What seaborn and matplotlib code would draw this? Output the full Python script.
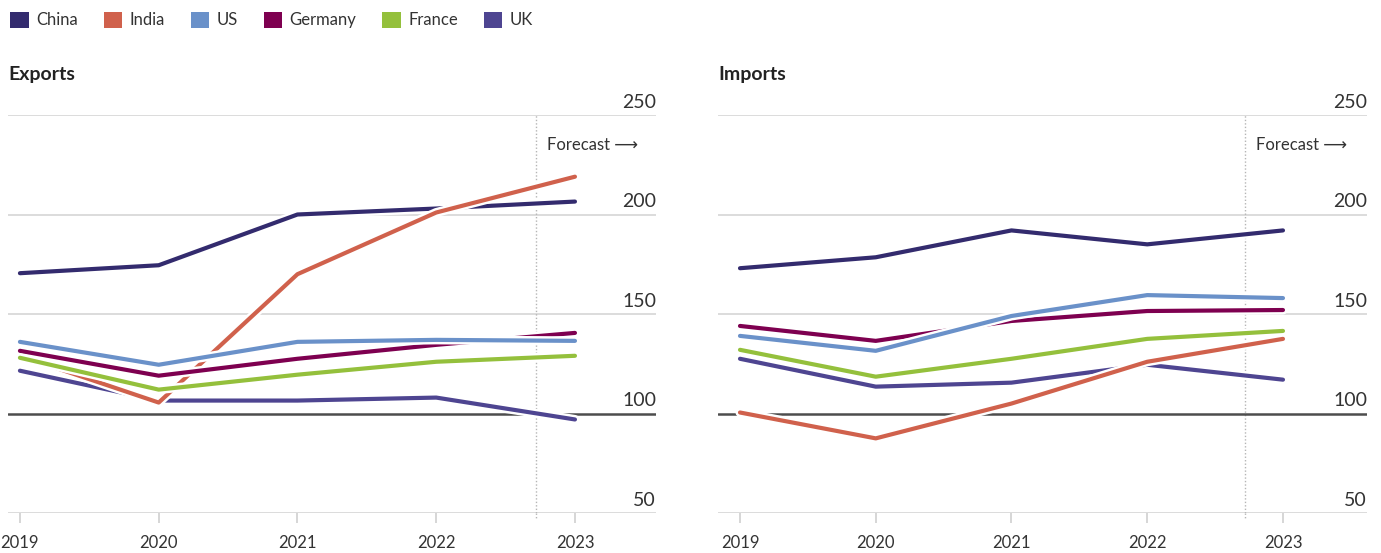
import matplotlib
matplotlib.use("Agg")
import matplotlib.pyplot as plt
import matplotlib.patheffects as pe
import matplotlib.transforms as mtransforms
from matplotlib.patches import Patch
import pandas as pd
import seaborn as sns

years = [2019, 2020, 2021, 2022, 2023]
countries = ["China", "India", "US", "Germany", "France", "UK"]
colors = ["#332b6e", "#d0614c", "#6a91c9", "#7e0050", "#94c03c", "#4e4591"]

exports_china = [170.5, 174.5, 200, 203, 206.5]
exports_india = [129, 105.5, 170, 201, 219]
exports_us = [136, 124.5, 136, 137, 136.5]
exports_germany = [131.5, 119, 127.5, 134.5, 140.5]
exports_france = [128, 112, 119.5, 126, 129]
exports_uk = [121.5, 106.5, 106.5, 108, 97]

imports_china = [173, 178.5, 192, 185, 192]
imports_india = [100.5, 87.5, 105, 126, 137.5]
imports_us = [139, 131.5, 149, 159.5, 158]
imports_germany = [144, 136.5, 146.5, 151.5, 152]
imports_france = [132, 118.5, 127.5, 137.5, 141.5]
imports_uk = [127.5, 113.5, 115.5, 124.5, 117]

y_ticks = [50, 100, 150, 200, 250]
forecast_x = 2022.72

exports = dict(zip(countries, [exports_china, exports_india, exports_us,
                               exports_germany, exports_france, exports_uk]))
imports = dict(zip(countries, [imports_china, imports_india, imports_us,
                               imports_germany, imports_france, imports_uk]))
palette = dict(zip(countries, colors))
# order lines are stacked in (later on top)
draw_order = ["China", "UK", "India", "Germany", "US", "France"]


def long_frame(series):
    rows = []
    for c, vals in series.items():
        for y, v in zip(years, vals):
            rows.append({"year": y, "country": c, "value": v})
    return pd.DataFrame(rows)


sns.set_theme(style="white")
plt.rcParams["font.family"] = ["Lato", "DejaVu Sans"]
text_col = "#333333"

fig = plt.figure(figsize=(13.81, 5.53), dpi=100)
ax1 = fig.add_axes([8 / 1381, 40 / 553, 648 / 1381, 398 / 553])
ax2 = fig.add_axes([718 / 1381, 40 / 553, 649 / 1381, 398 / 553])

panels = [(ax1, exports, "Exports", (2018.914, 2023.584)),
          (ax2, imports, "Imports", (2018.838, 2023.619))]

for ax, series, title, xlim in panels:
    df = long_frame(series)
    sns.lineplot(data=df, x="year", y="value", hue="country",
                 hue_order=draw_order, palette=palette, linewidth=3.0,
                 legend=False, ax=ax, zorder=3)
    for ln in ax.lines:
        ln.set_solid_capstyle("round")
        ln.set_solid_joinstyle("round")
        ln.set_path_effects([pe.Stroke(linewidth=6.5, foreground="white"),
                             pe.Normal()])

    for v in y_ticks:
        if v == 100:
            ax.axhline(v, color="#4d4d4d", lw=1.8, zorder=2)
        else:
            ax.axhline(v, color="#d9d9d9", lw=1.3, zorder=1)
    ax.axvline(forecast_x, ymin=0, ymax=1, color="#b5b5b5", lw=1,
               ls=(0, (1, 1.5)), zorder=1)
    ax.plot([forecast_x, forecast_x], [50, 47.5], color="#b5b5b5", lw=1,
            ls=(0, (1, 1.5)), clip_on=False)

    ax.set_xlim(*xlim)
    ax.set_ylim(50, 250)
    ax.set_xticks(years)
    ax.set_xticklabels([str(y) for y in years], fontsize=12, color=text_col)
    ax.set_yticks([])
    ax.tick_params(axis="x", bottom=True, length=7, width=1.2,
                   color="#d0d0d0", pad=9)
    ax.set_xlabel("")
    ax.set_ylabel("")
    for s in ax.spines.values():
        s.set_visible(False)

    trans = mtransforms.blended_transform_factory(ax.transAxes, ax.transData)
    for v in y_ticks:
        ax.text(1.0, v + 3.6, str(v), transform=trans, ha="right",
                va="baseline", fontsize=14, color=text_col, clip_on=False)

    ax.text(forecast_x + 0.08, 235, "Forecast \u27f6", fontsize=12,
            color=text_col, va="center", ha="left")
    ax.text(0.0, 1.103, title, transform=ax.transAxes, fontsize=14,
            fontweight="bold", color="#222222", ha="left", va="center")

handles = [Patch(facecolor=palette[c], edgecolor="none", label=c)
           for c in countries]
fig.legend(handles=handles, loc="upper left", bbox_to_anchor=(-0.001, 1.0),
           ncol=6, frameon=False, fontsize=12, handlelength=1.1,
           handleheight=1.1, handletextpad=0.45, columnspacing=1.55,
           borderaxespad=0.3, labelcolor=text_col)

fig.savefig("out.png", dpi=100)
